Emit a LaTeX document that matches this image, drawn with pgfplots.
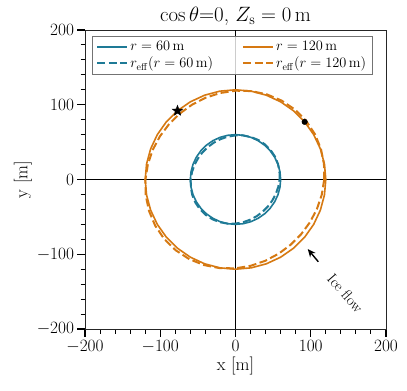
\documentclass[border=0pt]{standalone}
\usepackage{pgfplots}
\pgfplotsset{compat=1.18}
\usetikzlibrary{arrows.meta}
\definecolor{cblue}{RGB}{30,122,150}
\definecolor{corange}{RGB}{214,121,18}
\pgfdeclareplotmark{fstar}{%
  \pgfpathmoveto{\pgfpointpolar{90}{\pgfplotmarksize}}%
  \pgfpathlineto{\pgfpointpolar{126}{0.42\pgfplotmarksize}}%
  \pgfpathlineto{\pgfpointpolar{162}{\pgfplotmarksize}}%
  \pgfpathlineto{\pgfpointpolar{198}{0.42\pgfplotmarksize}}%
  \pgfpathlineto{\pgfpointpolar{234}{\pgfplotmarksize}}%
  \pgfpathlineto{\pgfpointpolar{270}{0.42\pgfplotmarksize}}%
  \pgfpathlineto{\pgfpointpolar{306}{\pgfplotmarksize}}%
  \pgfpathlineto{\pgfpointpolar{342}{0.42\pgfplotmarksize}}%
  \pgfpathlineto{\pgfpointpolar{18}{\pgfplotmarksize}}%
  \pgfpathlineto{\pgfpointpolar{54}{0.42\pgfplotmarksize}}%
  \pgfpathclose\pgfusepathqfillstroke}
\begin{document}
\begin{tikzpicture}
\begin{axis}[
  name=ax,
  scale only axis, width=301pt, height=299pt,
  xmin=-200, xmax=200, ymin=-200, ymax=200,
  xtick={-200,-100,0,100,200}, ytick={-200,-100,0,100,200},
  minor xtick={-180,-160,-140,-120,-80,-60,-40,-20,20,40,60,80,120,140,160,180},
  minor ytick={-180,-160,-140,-120,-80,-60,-40,-20,20,40,60,80,120,140,160,180},
  tick pos=left, tick align=outside,
  major tick length=7.5pt, minor tick length=4.5pt,
  major tick style={black, line width=1.2pt},
  minor tick style={black, line width=1pt},
  axis line style={black!85, line width=0.9pt},
  tick label style={font=\fontsize{18}{20}\selectfont},
  label style={font=\fontsize{18}{20}\selectfont},
  xlabel={x [m]}, ylabel={y [m]},
  xlabel style={yshift=2pt}, ylabel style={yshift=-2pt},
  title={$\cos\theta$=0,\ $Z_{\mathrm{s}}=0\,\mathrm{m}$},
  title style={font=\fontsize{21}{23}\selectfont, yshift=-5pt},
  legend columns=2,
  legend cell align=left,
  legend image code/.code={\draw[#1] (0pt,0pt) -- (30pt,0pt);},
  legend style={at={(0.023,0.98)}, anchor=north west,
    font=\fontsize{14}{16}\selectfont, draw=black!55, line width=0.8pt,
    fill=white, fill opacity=0.8, text opacity=1, draw opacity=1,
    inner xsep=4pt, inner ysep=3pt, row sep=1pt,
    /tikz/every even column/.append style={column sep=27pt}},
]
\draw[black, line width=0.9pt] (axis cs:-200,0) -- (axis cs:200,0);
\draw[black, line width=0.9pt] (axis cs:0,-200) -- (axis cs:0,200);

% r = 60 m
\addplot[cblue, line width=1.6pt] coordinates {
(60,0) (59.09,10.42) (56.38,20.52) (51.96,30) (45.96,38.57) (38.57,45.96) (30,51.96) (20.52,56.38) (10.42,59.09)
(0,60) (-10.42,59.09) (-20.52,56.38) (-30,51.96) (-38.57,45.96) (-45.96,38.57) (-51.96,30) (-56.38,20.52) (-59.09,10.42)
(-60,0) (-59.09,-10.42) (-56.38,-20.52) (-51.96,-30) (-45.96,-38.57) (-38.57,-45.96) (-30,-51.96) (-20.52,-56.38) (-10.42,-59.09)
(0,-60) (10.42,-59.09) (20.52,-56.38) (30,-51.96) (38.57,-45.96) (45.96,-38.57) (51.96,-30) (56.38,-20.52) (59.09,-10.42) (60,0)
};
\addlegendentry{$r=60\,\mathrm{m}$}
% r = 120 m
\addplot[corange, line width=1.6pt] coordinates {
(120,0) (118.18,20.84) (112.76,41.04) (103.92,60) (91.93,77.13) (77.13,91.93) (60,103.92) (41.04,112.76) (20.84,118.18)
(0,120) (-20.84,118.18) (-41.04,112.76) (-60,103.92) (-77.13,91.93) (-91.93,77.13) (-103.92,60) (-112.76,41.04) (-118.18,20.84)
(-120,0) (-118.18,-20.84) (-112.76,-41.04) (-103.92,-60) (-91.93,-77.13) (-77.13,-91.93) (-60,-103.92) (-41.04,-112.76) (-20.84,-118.18)
(0,-120) (20.84,-118.18) (41.04,-112.76) (60,-103.92) (77.13,-91.93) (91.93,-77.13) (103.92,-60) (112.76,-41.04) (118.18,-20.84) (120,0)
};
\addlegendentry{$r=120\,\mathrm{m}$}
% r_eff(60)
\addplot[cblue, line width=2pt, dash pattern=on 8pt off 3.5pt] coordinates {
(58.5,0) (58.46,10.30) (56.51,20.57) (52.60,30.37) (46.79,39.26) (39.30,46.83) (30.46,52.76) (20.67,56.80) (10.38,58.86)
(0,59) (-10.11,57.35) (-19.69,54.09) (-28.54,49.43) (-36.55,43.56) (-43.60,36.59) (-49.59,28.63) (-54.37,19.79) (-57.75,10.18)
(-59.5,0) (-59.43,-10.48) (-57.40,-20.89) (-53.35,-30.80) (-47.37,-39.75) (-39.71,-47.32) (-30.71,-53.19) (-20.79,-57.11) (-10.41,-59.04)
(0,-59) (10.08,-57.18) (19.57,-53.77) (28.29,-49.00) (36.14,-43.06) (43.02,-36.10) (48.84,-28.20) (53.49,-19.47) (56.78,-10.01) (58.5,0)
};
\addlegendentry{$r_{\mathrm{eff}}(r=60\,\mathrm{m})$}
% r_eff(120)
\addplot[corange, line width=2pt, dash pattern=on 8pt off 3.5pt] coordinates {
(117.9,0) (117.57,20.72) (113.43,41.28) (105.43,60.87) (93.72,78.65) (78.72,93.80) (61.04,105.71) (41.47,113.94) (20.85,118.28)
(0,118.8) (-20.40,115.70) (-39.79,109.33) (-57.77,100.05) (-74.01,88.20) (-88.28,74.08) (-100.33,57.93) (-109.84,39.98) (-116.42,20.52)
(-119.7,0) (-119.32,-21.03) (-115.03,-41.86) (-106.78,-61.65) (-94.78,-79.53) (-79.46,-94.69) (-61.49,-106.49) (-41.68,-114.52) (-20.91,-118.60)
(0,-118.8) (20.34,-115.39) (39.58,-108.75) (57.32,-99.27) (73.27,-87.31) (87.22,-73.20) (98.98,-57.15) (108.24,-39.39) (114.67,-20.21) (117.9,0)
};
\addlegendentry{$r_{\mathrm{eff}}(r=120\,\mathrm{m})$}

\addplot[only marks, mark=fstar, mark size=5.5pt, black, forget plot] coordinates {(-77.1,91.9)};
\addplot[only marks, mark=*, mark size=2.8pt, black, forget plot] coordinates {(91.9,77.1)};

\draw[-{Stealth[length=8pt,width=7pt]}, line width=1.4pt, black] (axis cs:110,-110) -- (axis cs:96,-93);
\node[rotate=-49, font=\fontsize{15}{17}\selectfont] at (axis cs:146,-152) {Ice flow};
\end{axis}
\pgfresetboundingbox
\path ([shift={(-85pt,-61pt)}]ax.south west) rectangle ([shift={(21pt,30pt)}]ax.north east);
\end{tikzpicture}
\end{document}
